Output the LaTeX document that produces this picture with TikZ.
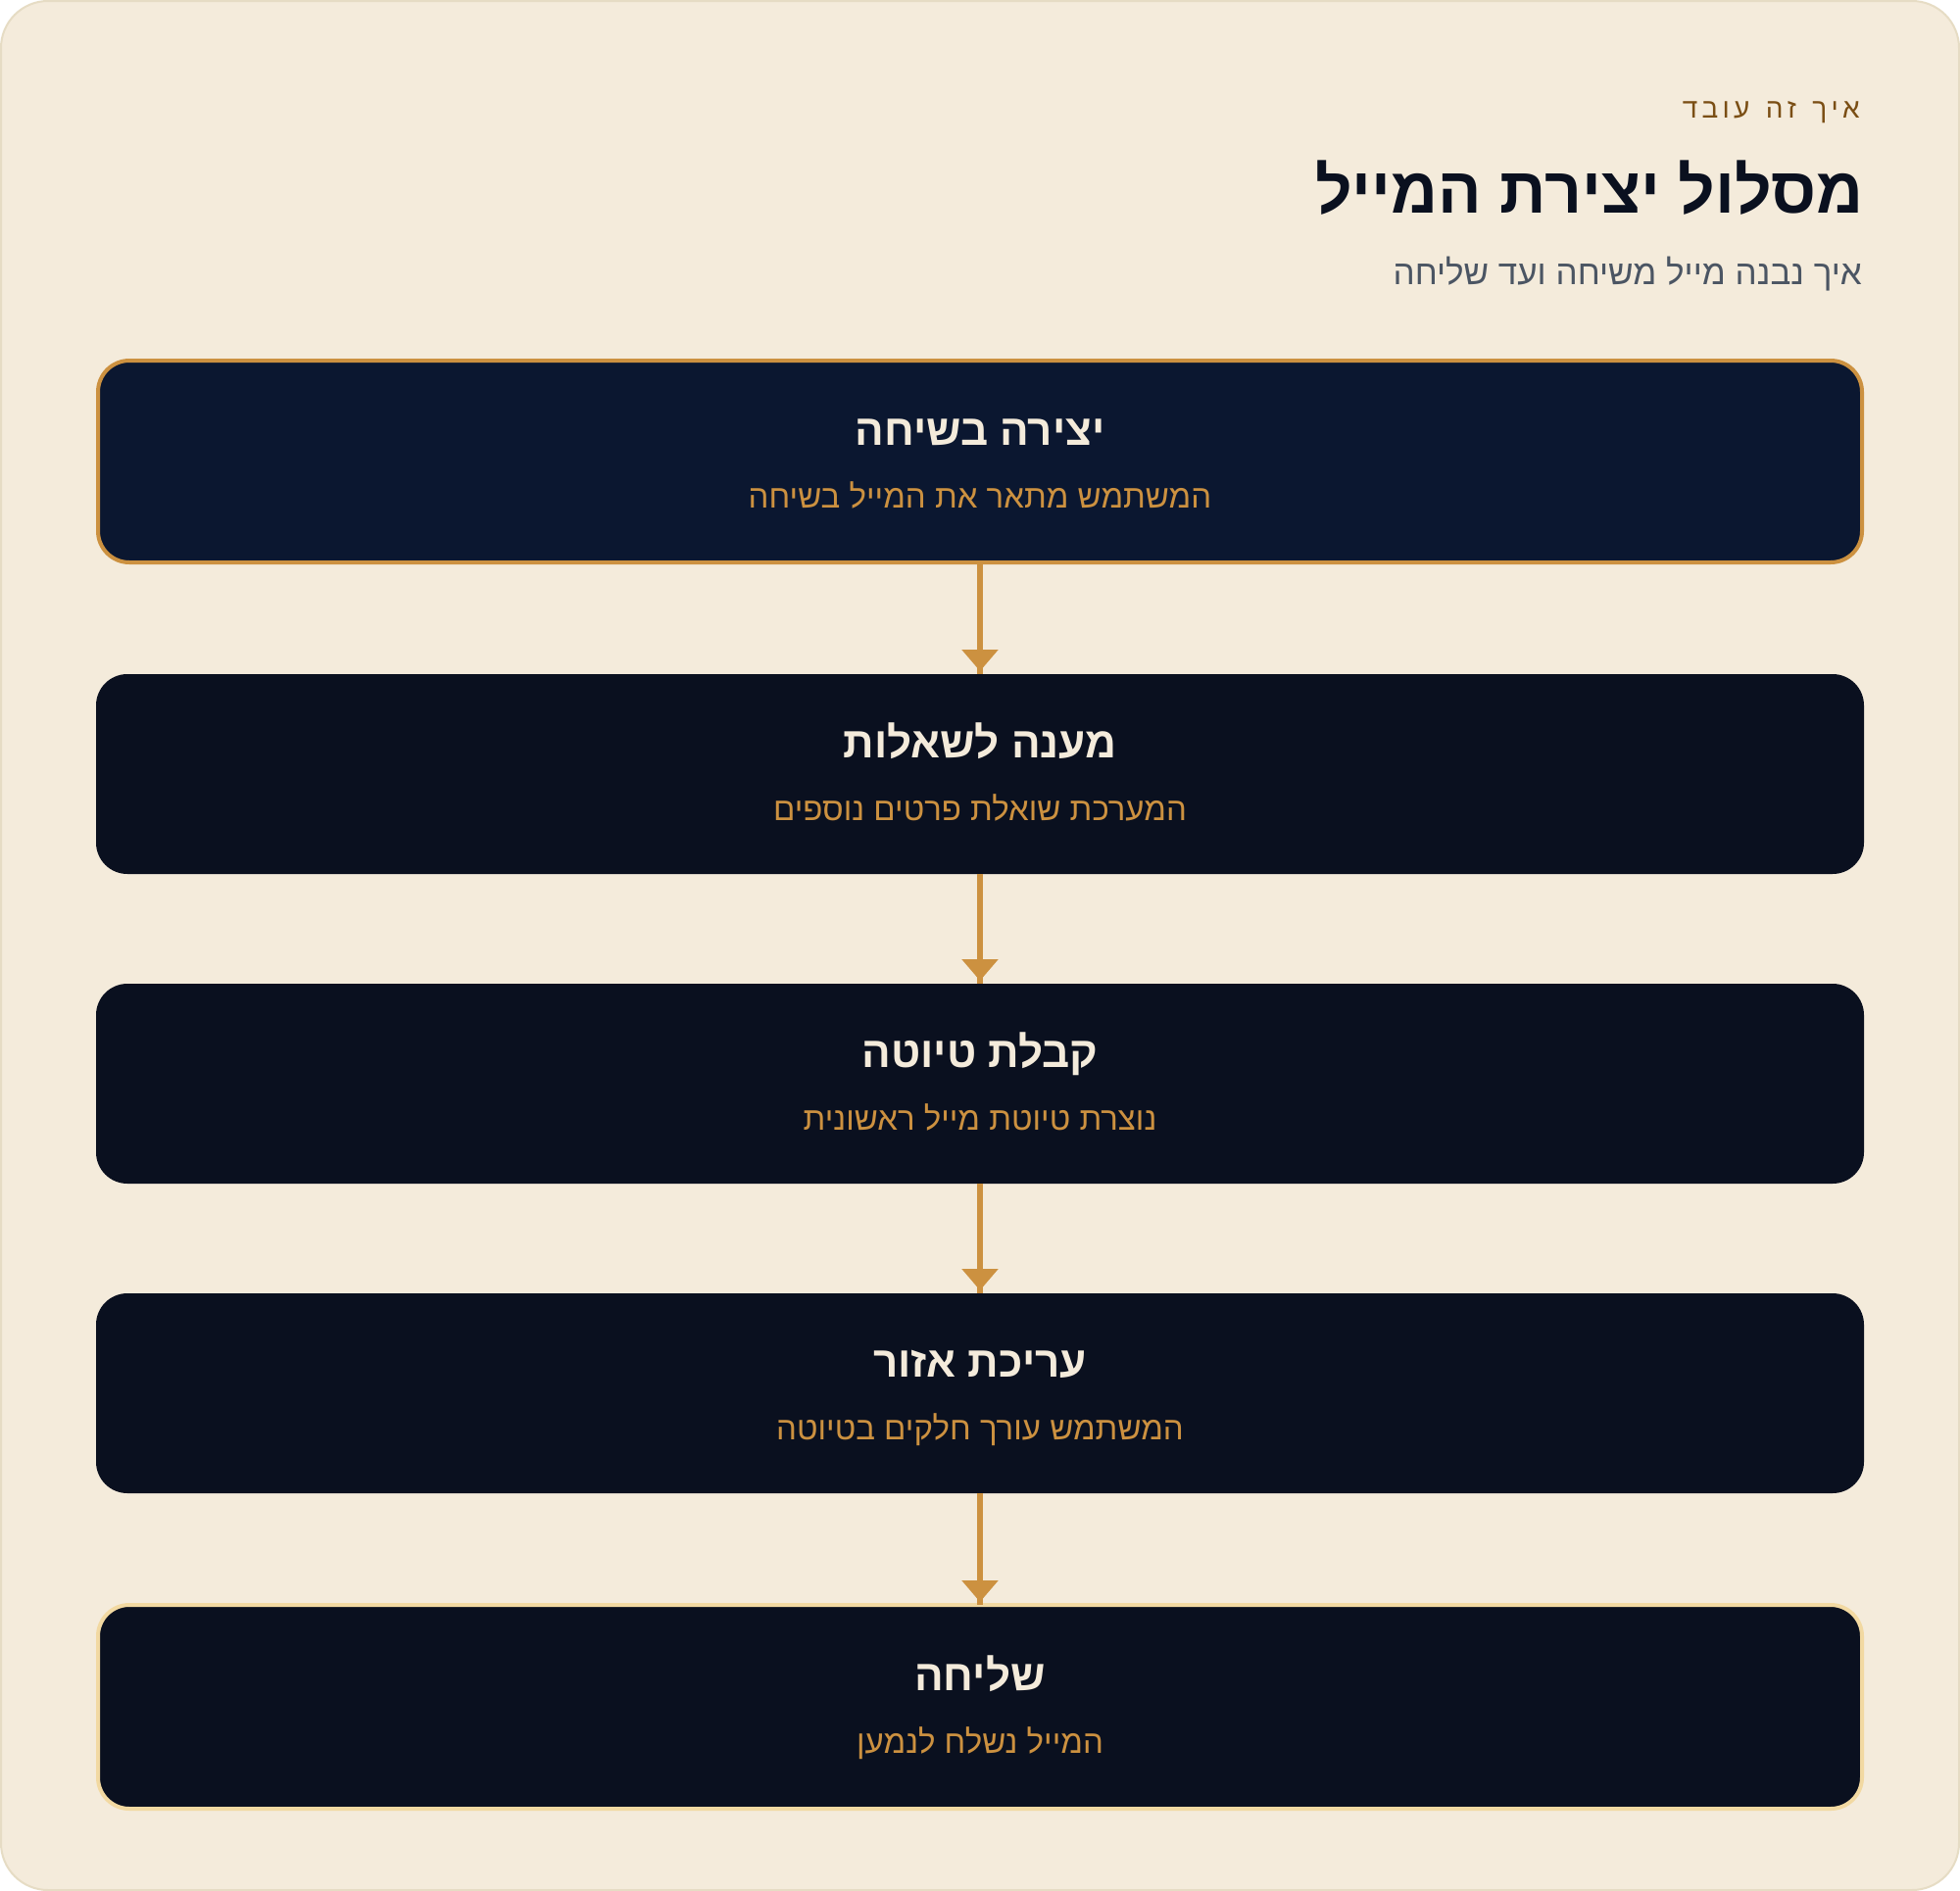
\documentclass[tikz,border=0pt]{standalone}
\usepackage{fontspec}
\usetikzlibrary{arrows.meta}
\TeXXeTstate=1
\newfontfamily\heb[Script=Hebrew]{Liberation Sans}
\definecolor{bgc}{HTML}{F4EBDB}
\definecolor{framec}{HTML}{E6DCC4}
\definecolor{navy}{HTML}{0B1730}
\definecolor{ink}{HTML}{0A101F}
\definecolor{gold}{HTML}{CC9140}
\definecolor{pale}{HTML}{F2D9A2}
\definecolor{brownc}{HTML}{7A4E14}
\definecolor{slate}{HTML}{4B5563}
\definecolor{cream}{HTML}{F4EBDB}
\newcommand{\ls}{\kern4.3pt}
\tikzset{
  stepbox/.style={rectangle, rounded corners=32pt, inner sep=0pt, outer sep=0pt,
    minimum width=1804pt, minimum height=204pt, fill=ink},
  hilite/.style={draw=#1, line width=4pt, minimum width=1800pt, minimum height=206pt},
  boxtitle/.style={inner sep=0pt, anchor=base, text=cream, font=\heb\bfseries\fontsize{44}{52}\selectfont},
  boxsub/.style={inner sep=0pt, anchor=base, text=gold, font=\heb\fontsize{33}{40}\selectfont},
  conn/.style={draw=gold, line width=6pt},
  tip/.style={-{Triangle[width=36pt,length=22pt]}, shorten >=3pt}
}
\begin{document}
\begin{tikzpicture}[x=1pt,y=-1pt]
\useasboundingbox (0,0) rectangle (2000,1930);
\fill[white] (0,0) rectangle (2000,1930);
\draw[draw=framec, line width=2pt, fill=bgc, rounded corners=48pt] (1,1) rectangle (1999,1929);

\node[inner sep=0pt, anchor=base east, text=brownc, font=\heb\fontsize{28}{34}\selectfont] (eyebrow) at (1898,120) {\beginR א\ls י\ls ך\ls{} \ls ז\ls ה\ls{} \ls ע\ls ו\ls ב\ls ד\endR};
\node[inner sep=0pt, anchor=base east, text=ink, font=\heb\bfseries\fontsize{66}{74}\selectfont] (title) at (1902,217) {\beginR מסלול יצירת המייל\endR};
\node[inner sep=0pt, anchor=base east, text=slate, font=\heb\fontsize{35}{42}\selectfont] (subtitle) at (1900,290) {\beginR איך נבנה מייל משיחה ועד שליחה\endR};

\node[stepbox, fill=navy, hilite=gold] (b1) at (1000,471) {};
\node[stepbox] (b2) at (1000,790) {};
\node[stepbox] (b3) at (1000,1106) {};
\node[stepbox] (b4) at (1000,1422) {};
\node[stepbox, hilite=pale, minimum height=208pt] (b5) at (1000,1742) {};

\node[boxtitle] (t1) at (1000,454) {\beginR יצירה בשיחה\endR};
\node[boxsub] (s1) at (1000,518) {\beginR המשתמש מתאר את המייל בשיחה\endR};
\node[boxtitle] (t2) at (1000,773) {\beginR מענה לשאלות\endR};
\node[boxsub] (s2) at (1000,837) {\beginR המערכת שואלת פרטים נוספים\endR};
\node[boxtitle] (t3) at (1000,1089) {\beginR קבלת טיוטה\endR};
\node[boxsub] (s3) at (1000,1153) {\beginR נוצרת טיוטת מייל ראשונית\endR};
\node[boxtitle] (t4) at (1000,1405) {\beginR עריכת אזור\endR};
\node[boxsub] (s4) at (1000,1469) {\beginR המשתמש עורך חלקים בטיוטה\endR};
\node[boxtitle] (t5) at (1000,1725) {\beginR שליחה\endR};
\node[boxsub] (s5) at (1000,1789) {\beginR המייל נשלח לנמען\endR};

\foreach \a/\b in {b1/b2,b2/b3,b3/b4,b4/b5}{
  \draw[conn] (\a.south) -- (\b.north);
  \draw[conn, tip] (\a.south) -- (\b.north);
}
\end{tikzpicture}
\end{document}
